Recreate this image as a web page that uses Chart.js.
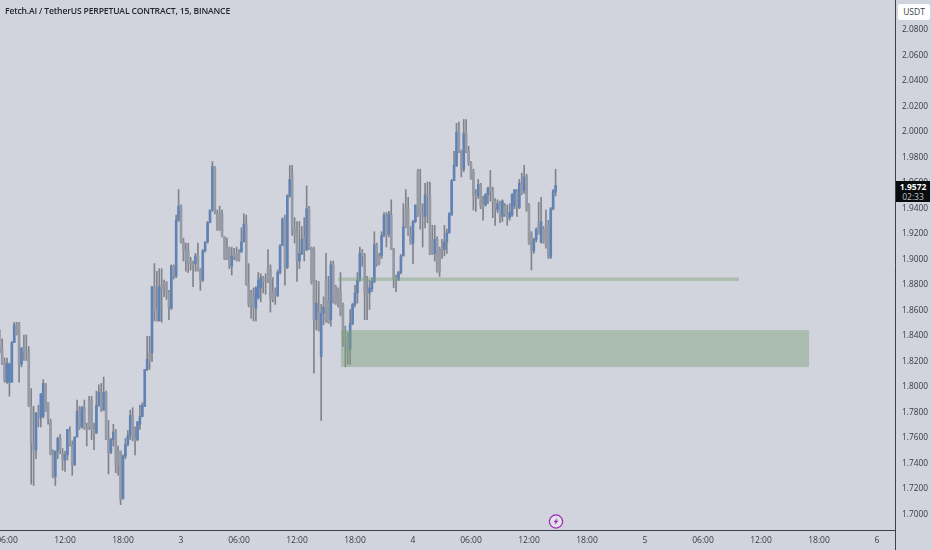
<!DOCTYPE html>
<html><head><meta charset="utf-8">
<script src="https://cdn.jsdelivr.net/npm/chart.js@4/dist/chart.umd.js"></script>
<style>
html,body{margin:0;padding:0;background:#d1d4dc;overflow:hidden}
#wrap{position:relative;width:932px;height:550px;filter:blur(.3px)}
canvas{position:absolute;left:0;top:0}
.t{position:absolute;white-space:nowrap;font-family:"Open Sans",sans-serif}
#title{left:5px;top:5px;font-size:8.6px;line-height:12px;font-weight:600;color:#23262e;letter-spacing:-.16px}
#ccy{left:898px;top:4px;width:32px;height:16px;background:#fff;border-radius:2px;text-align:center;font-size:8.5px;line-height:16px;color:#3a3e48}
#lab{left:896px;top:181px;width:34px;height:21px;background:#0a0b0e;color:#fff;text-align:center}
#lab div{font-size:8.5px;line-height:10px}
#lab .a{font-weight:700;padding-top:1px}
#lab .b{color:#c4c6cc}
</style></head><body>
<div id="wrap">
<canvas id="c" width="932" height="550"></canvas>
<div class="t" id="title">Fetch.AI / TetherUS PERPETUAL CONTRACT, 15, BINANCE</div>
<div class="t" id="ccy">USDT</div>
<div class="t" id="lab"><div class="a">1.9572</div><div class="b">02:33</div></div>
</div>
<script>
const opens=[1.830,1.830,1.818,1.803,1.803,1.803,1.834,1.848,1.848,1.817,
1.830,1.828,1.826,1.784,1.755,1.750,1.779,1.775,1.776,1.802,
1.787,1.772,1.747,1.729,1.749,1.759,1.747,1.742,1.746,1.764,
1.754,1.738,1.760,1.781,1.768,1.783,1.768,1.789,1.789,1.766,
1.763,1.785,1.795,1.781,1.795,1.758,1.748,1.758,1.764,1.749,
1.749,1.712,1.745,1.754,1.761,1.777,1.759,1.758,1.770,1.776,
1.784,1.813,1.826,1.826,1.878,1.860,1.851,1.879,1.881,1.881,
1.873,1.861,1.894,1.886,1.930,1.941,1.913,1.906,1.906,1.898,
1.896,1.896,1.902,1.891,1.883,1.906,1.913,1.928,1.938,1.972,
1.935,1.935,1.935,1.917,1.908,1.908,1.894,1.904,1.904,1.905,
1.905,1.913,1.927,1.880,1.873,1.871,1.861,1.869,1.877,1.885,
1.883,1.892,1.892,1.874,1.874,1.871,1.889,1.910,1.931,1.893,
1.949,1.966,1.924,1.920,1.898,1.904,1.916,1.907,1.939,1.908,
1.907,1.852,1.858,1.823,1.857,1.883,1.867,1.852,1.895,1.878,
1.876,1.874,1.864,1.839,1.839,1.829,1.849,1.864,1.873,1.883,
1.904,1.902,1.873,1.873,1.876,1.882,1.911,1.902,1.902,1.918,
1.934,1.919,1.934,1.907,1.885,1.883,1.889,1.902,1.939,1.939,
1.919,1.912,1.929,1.968,1.943,1.936,1.933,1.950,1.950,1.915,
1.904,1.915,1.907,1.908,1.907,1.913,1.920,1.934,1.961,1.973,
1.999,1.984,1.970,1.998,1.984,1.975,1.968,1.950,1.949,1.958,
1.943,1.942,1.950,1.956,1.954,1.945,1.938,1.943,1.933,1.941,
1.934,1.932,1.934,1.941,1.952,1.940,1.959,1.953,1.964,1.942,
1.920,1.906,1.915,1.928,1.913,1.923,1.926,1.926,1.901,1.939,1.952];
const closes=[1.827,1.817,1.805,1.818,1.817,1.834,1.848,1.841,1.817,1.830,
1.827,1.826,1.784,1.755,1.750,1.779,1.777,1.794,1.802,1.781,
1.774,1.747,1.729,1.749,1.759,1.749,1.742,1.746,1.766,1.754,
1.738,1.760,1.780,1.768,1.783,1.767,1.766,1.768,1.766,1.763,
1.785,1.795,1.781,1.795,1.758,1.748,1.758,1.764,1.738,1.738,
1.711,1.745,1.754,1.761,1.777,1.759,1.757,1.772,1.776,1.785,
1.813,1.821,1.821,1.878,1.860,1.851,1.878,1.877,1.878,1.873,
1.862,1.894,1.886,1.930,1.941,1.913,1.906,1.898,1.896,1.896,
1.895,1.902,1.891,1.883,1.906,1.913,1.928,1.938,1.972,1.937,
1.923,1.923,1.917,1.900,1.900,1.895,1.902,1.901,1.899,1.899,
1.913,1.927,1.880,1.864,1.864,1.861,1.877,1.883,1.885,1.882,
1.882,1.882,1.869,1.868,1.871,1.889,1.910,1.931,1.893,1.949,
1.962,1.920,1.919,1.898,1.904,1.915,1.907,1.939,1.908,1.881,
1.852,1.865,1.844,1.857,1.862,1.852,1.850,1.895,1.866,1.865,
1.864,1.856,1.838,1.836,1.829,1.849,1.864,1.873,1.883,1.904,
1.902,1.873,1.872,1.877,1.882,1.911,1.896,1.896,1.918,1.934,
1.919,1.935,1.907,1.884,1.883,1.889,1.902,1.925,1.925,1.919,
1.912,1.929,1.942,1.934,1.933,1.933,1.950,1.949,1.904,1.904,
1.915,1.890,1.890,1.907,1.913,1.920,1.935,1.961,1.973,1.999,
1.984,1.970,1.998,1.984,1.975,1.963,1.949,1.949,1.958,1.941,
1.941,1.950,1.955,1.953,1.945,1.939,1.943,1.933,1.945,1.935,
1.932,1.936,1.950,1.954,1.941,1.959,1.951,1.964,1.938,1.912,
1.906,1.915,1.923,1.920,1.929,1.913,1.910,1.902,1.939,1.953,1.9572];
const highs=[1.844,1.837,1.822,1.822,1.818,1.835,1.850,1.850,1.850,1.830,
1.840,1.840,1.831,1.798,1.784,1.779,1.785,1.794,1.805,1.802,
1.787,1.774,1.750,1.749,1.760,1.762,1.751,1.749,1.766,1.768,
1.757,1.760,1.789,1.784,1.784,1.789,1.771,1.792,1.792,1.771,
1.796,1.801,1.802,1.807,1.796,1.773,1.759,1.770,1.766,1.753,
1.749,1.746,1.759,1.765,1.781,1.783,1.768,1.772,1.785,1.787,
1.813,1.839,1.839,1.878,1.896,1.890,1.892,1.892,1.883,1.882,
1.875,1.895,1.895,1.934,1.954,1.942,1.916,1.912,1.912,1.901,
1.898,1.904,1.912,1.892,1.907,1.913,1.929,1.938,1.976,1.972,
1.938,1.941,1.938,1.917,1.916,1.909,1.909,1.908,1.909,1.907,
1.924,1.935,1.934,1.896,1.875,1.877,1.878,1.889,1.888,1.886,
1.888,1.907,1.895,1.885,1.877,1.891,1.911,1.932,1.934,1.950,
1.973,1.973,1.932,1.929,1.929,1.925,1.932,1.957,1.941,1.909,
1.909,1.883,1.882,1.864,1.870,1.904,1.886,1.898,1.898,1.879,
1.877,1.889,1.865,1.847,1.842,1.860,1.865,1.879,1.889,1.909,
1.907,1.904,1.886,1.883,1.885,1.921,1.912,1.904,1.921,1.936,
1.936,1.937,1.946,1.908,1.887,1.890,1.903,1.943,1.954,1.948,
1.925,1.930,1.942,1.970,1.970,1.943,1.959,1.960,1.960,1.926,
1.926,1.917,1.909,1.915,1.926,1.923,1.936,1.962,1.984,2.006,
2.007,1.985,2.009,2.009,1.988,1.976,1.970,1.954,1.962,1.959,
1.949,1.951,1.956,1.969,1.956,1.947,1.946,1.945,1.946,1.943,
1.942,1.943,1.951,1.954,1.954,1.962,1.967,1.973,1.966,1.943,
1.921,1.916,1.924,1.944,1.948,1.925,1.938,1.930,1.940,1.954,1.970];
const lows=[1.826,1.817,1.803,1.802,1.792,1.803,1.834,1.840,1.803,1.815,
1.820,1.820,1.784,1.723,1.722,1.743,1.768,1.768,1.775,1.780,
1.770,1.746,1.728,1.722,1.743,1.747,1.734,1.733,1.742,1.753,
1.730,1.738,1.760,1.766,1.767,1.766,1.753,1.766,1.758,1.750,
1.763,1.784,1.780,1.781,1.758,1.731,1.747,1.753,1.732,1.730,
1.707,1.711,1.743,1.753,1.758,1.757,1.746,1.757,1.766,1.776,
1.784,1.812,1.813,1.819,1.851,1.851,1.851,1.850,1.870,1.868,
1.852,1.860,1.884,1.885,1.929,1.912,1.898,1.890,1.889,1.891,
1.878,1.890,1.890,1.875,1.882,1.905,1.912,1.928,1.937,1.935,
1.922,1.922,1.917,1.899,1.899,1.892,1.887,1.899,1.898,1.898,
1.905,1.913,1.879,1.862,1.853,1.851,1.851,1.868,1.866,1.873,
1.872,1.881,1.858,1.866,1.864,1.870,1.888,1.910,1.879,1.892,
1.948,1.918,1.912,1.882,1.892,1.903,1.898,1.906,1.907,1.880,
1.810,1.844,1.843,1.773,1.848,1.850,1.849,1.847,1.865,1.864,
1.862,1.855,1.831,1.815,1.817,1.817,1.848,1.862,1.865,1.882,
1.894,1.852,1.852,1.860,1.874,1.881,1.894,1.895,1.900,1.917,
1.909,1.917,1.907,1.877,1.874,1.883,1.888,1.902,1.924,1.918,
1.911,1.896,1.928,1.933,1.923,1.909,1.924,1.928,1.903,1.903,
1.898,1.889,1.886,1.900,1.902,1.904,1.920,1.934,1.961,1.972,
1.983,1.964,1.968,1.983,1.973,1.962,1.938,1.937,1.947,1.939,
1.930,1.941,1.943,1.945,1.932,1.926,1.936,1.928,1.929,1.933,
1.926,1.930,1.933,1.939,1.933,1.939,1.950,1.951,1.937,1.911,
1.891,1.904,1.913,1.919,1.912,1.912,1.908,1.900,1.900,1.938,1.949];

const firstBarSlot=-3;                 // bars are numbered in 15-minute slots from the 06:00 label
const timeTickSlots=[0,24,48,72,96,120,144,168,192,216,240,264,288,312,336,360];
const timeTickLabels=["06:00","12:00","18:00","3","06:00","12:00","18:00","4","06:00","12:00","18:00","5","06:00","12:00","18:00","6"];
const priceTicks=[1.70,1.72,1.74,1.76,1.78,1.80,1.82,1.84,1.86,1.88,1.90,1.92,1.94,1.96,1.98,2.00,2.02,2.04,2.06,2.08];
const zoneStart=[137,138.2], zoneEnd=[302.9,331.9], zoneTop=[1.8851,1.8439], zoneBottom=[1.8824,1.8149];

const UP='#6082b4', DOWN='#959aa5', WICK='rgba(100,104,114,.75)', LINE='#3c4049', TXT='#363a45';
const slot=i=>i+firstBarSlot;
const noPad=s=>{s.paddingLeft=s.paddingRight=s.paddingTop=s.paddingBottom=0;};

const overlay={id:'overlay',
 afterDatasetsDraw(ch){
  const {ctx,scales:{x,y}}=ch;
  ctx.save();
  zoneStart.forEach((_,i)=>{
    const x0=x.getPixelForValue(zoneStart[i]),x1=x.getPixelForValue(zoneEnd[i]);
    const y0=y.getPixelForValue(zoneTop[i]),y1=y.getPixelForValue(zoneBottom[i]);
    ctx.fillStyle='rgba(124,161,122,.45)';
    ctx.fillRect(x0,y0,x1-x0,y1-y0);
  });
  ctx.restore();
 },
 afterDraw(ch){
  const {ctx,chartArea:a}=ch;
  ctx.save();
  ctx.strokeStyle=LINE;ctx.lineWidth=1;
  ctx.beginPath();ctx.moveTo(a.right+.5,a.bottom);ctx.lineTo(a.right+.5,ch.height);ctx.stroke();
  // flash badge
  const cx=556,cy=521.5;
  ctx.beginPath();ctx.arc(cx,cy,6.6,0,7);ctx.fillStyle='#e3e1ea';ctx.fill();
  ctx.strokeStyle='#9c27b0';ctx.lineWidth=1.2;ctx.stroke();
  ctx.fillStyle='#9c27b0';ctx.beginPath();
  ctx.moveTo(cx+1.5,cy-3.5);ctx.lineTo(cx-2.5,cy+.7);ctx.lineTo(cx-.3,cy+.7);ctx.lineTo(cx-1.5,cy+3.5);
  ctx.lineTo(cx+2.5,cy-.7);ctx.lineTo(cx+.3,cy-.7);ctx.closePath();ctx.fill();
  ctx.restore();
 }};

new Chart(document.getElementById('c'),{
 type:'bar',
 data:{datasets:[
  {label:'Range',order:2,grouped:false,barThickness:1,backgroundColor:WICK,
   data:highs.map((h,i)=>({x:slot(i),y:[lows[i],h]}))},
  {label:'Body',order:1,grouped:false,barThickness:2,
   backgroundColor:closes.map((c,i)=>c>=opens[i]?UP:DOWN),
   data:closes.map((c,i)=>({x:slot(i),y:[opens[i],c]}))}
 ]},
 plugins:[overlay],
 options:{
  responsive:false,animation:false,
  layout:{padding:0},
  plugins:{legend:{display:false},title:{display:false},tooltip:{enabled:false}},
  scales:{
   x:{type:'linear',min:-2.897,max:367.45,offset:false,
    grid:{display:false,drawTicks:false},
    border:{display:true,color:LINE,width:1},
    afterBuildTicks(s){s.ticks=timeTickSlots.map(v=>({value:v}));},
    afterFit(s){s.height=20;noPad(s);},
    ticks:{autoSkip:false,maxRotation:0,color:TXT,padding:5,
     font:{family:'"Open Sans"',size:8.5},
     callback:v=>timeTickLabels[timeTickSlots.indexOf(v)]}},
   y:{position:'right',min:1.6871,max:2.1027,
    grid:{display:false,drawTicks:false},
    border:{display:true,color:LINE,width:1},
    afterBuildTicks(s){s.ticks=priceTicks.map(v=>({value:v}));},
    afterFit(s){s.width=37;noPad(s);},
    ticks:{autoSkip:false,color:TXT,padding:7,labelOffset:1,
     font:{family:'"Open Sans"',size:8.3},
     callback:v=>v.toFixed(4)}}
  }
 }
});
</script>
</body></html>
